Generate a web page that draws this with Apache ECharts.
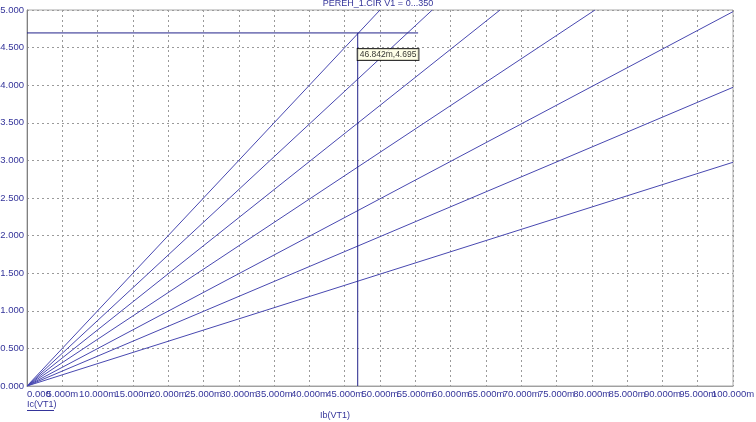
<!DOCTYPE html>
<html>
<head>
<meta charset="utf-8">
<script src="https://cdn.jsdelivr.net/npm/echarts@6/dist/echarts.min.js"></script>
<style>html,body{margin:0;padding:0;background:#fff}#c{width:756px;height:422px}</style>
</head>
<body>
<div id="c"></div>
<script>
// Data (Ib in A, Ic in A)
const ibStart = [0, 0, 0, 0, 0, 0, 0];
const icStart = [0, 0, 0, 0, 0, 0, 0];
const ibEnd = [0.100, 0.100, 0.100, 0.08045, 0.0670, 0.0574, 0.0500];
const icEnd = [2.975, 3.972, 4.978, 5.0, 5.0, 5.0, 5.0];
const cursorIb = 0.046842;
const cursorIc = 4.695;
const cursorHEnd = 0.0554;
const titleText = 'PEREH_1.CIR V1 = 0...350';
const xAxisName = 'Ib(VT1)';
const yAxisName = 'Ic(VT1)';
const xMin = 0, xMax = 0.1, xStep = 0.005;
const yMin = 0, yMax = 5, yStep = 0.5;

const FONT = '"Liberation Sans", Arial, sans-serif';
const TXT = '#34349a';
const chart = echarts.init(document.getElementById('c'), null, {renderer: 'canvas'});

const fmtX = v => v === 0 ? '0.000' : (v * 1000).toFixed(3) + 'm';
const isEdge = v => Math.abs(v - xMin) < 1e-9 || Math.abs(v - xMax) < 1e-9;

const series = ibEnd.map((x, i) => ({
  type: 'line',
  data: [[ibStart[i], icStart[i]], [x, icEnd[i]]],
  symbol: 'none',
  lineStyle: {color: '#4848b0', width: 1},
  z: 3,
  silent: true
}));
series.push({
  type: 'line', symbol: 'none', silent: true, z: 4,
  data: [[0, cursorIc], [cursorHEnd, cursorIc]],
  lineStyle: {color: '#22228a', width: 1}
});
series.push({
  type: 'line', symbol: 'none', silent: true, z: 4,
  data: [[cursorIb, 0], [cursorIb, cursorIc]],
  lineStyle: {color: '#22228a', width: 1}
});
series.push({
  type: 'scatter', symbolSize: 0, silent: true, z: 5,
  data: [[cursorIb, cursorIc]],
  label: {
    show: true,
    position: [0, 16],
    formatter: () => (cursorIb * 1000).toFixed(3) + 'm,' + cursorIc.toFixed(3),
    color: '#000', fontFamily: FONT, fontSize: 8.5,
    backgroundColor: '#ffffe1', borderColor: '#000', borderWidth: 1,
    padding: [1, 2, 0, 2], lineHeight: 10
  }
});

const labelBase = {show: true, margin: 3, color: TXT, fontFamily: FONT, fontSize: 9.5, hideOverlap: false};

chart.setOption({
  animation: false,
  backgroundColor: '#fff',
  grid: {left: 27, right: 23, top: 10, bottom: 36, show: true, borderColor: '#a8a8a8', borderWidth: 1,
         containLabel: false, outerBoundsMode: 'none'},
  xAxis: [{
    type: 'value', min: xMin, max: xMax, interval: xStep,
    axisLine: {show: true, lineStyle: {color: '#a0a0a0'}},
    axisTick: {show: false},
    splitLine: {show: true, lineStyle: {color: '#9a9a9a', type: [2, 3], width: 1}},
    axisLabel: Object.assign({}, labelBase, {
      formatter: v => isEdge(v) ? '' : fmtX(v)
    })
  }, {
    type: 'value', min: xMin, max: xMax, interval: xStep, position: 'bottom', gridIndex: 0,
    axisLine: {show: false}, axisTick: {show: false}, splitLine: {show: false},
    axisLabel: Object.assign({}, labelBase, {
      alignMinLabel: 'left', showMinLabel: true, showMaxLabel: true,
      formatter: v => isEdge(v) ? fmtX(v) : ''
    })
  }],
  yAxis: {
    type: 'value', min: yMin, max: yMax, interval: yStep,
    axisLine: {show: true, lineStyle: {color: '#808080'}},
    axisTick: {show: false},
    splitLine: {show: true, lineStyle: {color: '#9a9a9a', type: [2, 3], width: 1}},
    axisLabel: Object.assign({}, labelBase, {
      formatter: v => v.toFixed(3)
    })
  },
  graphic: [
    {type: 'text', left: 'center', top: -1, z: 10,
     style: {text: titleText, fill: TXT, font: '9px ' + FONT}},
    {type: 'text', left: 27, top: 400, z: 10,
     style: {text: yAxisName, fill: TXT, font: '9px ' + FONT}},
    {type: 'line', z: 10, shape: {x1: 27, y1: 410.5, x2: 54, y2: 410.5},
     style: {stroke: TXT, lineWidth: 1}},
    {type: 'text', left: 320, top: 411, z: 10,
     style: {text: xAxisName, fill: TXT, font: '9px ' + FONT}}
  ],
  series: series
});
</script>
</body>
</html>
